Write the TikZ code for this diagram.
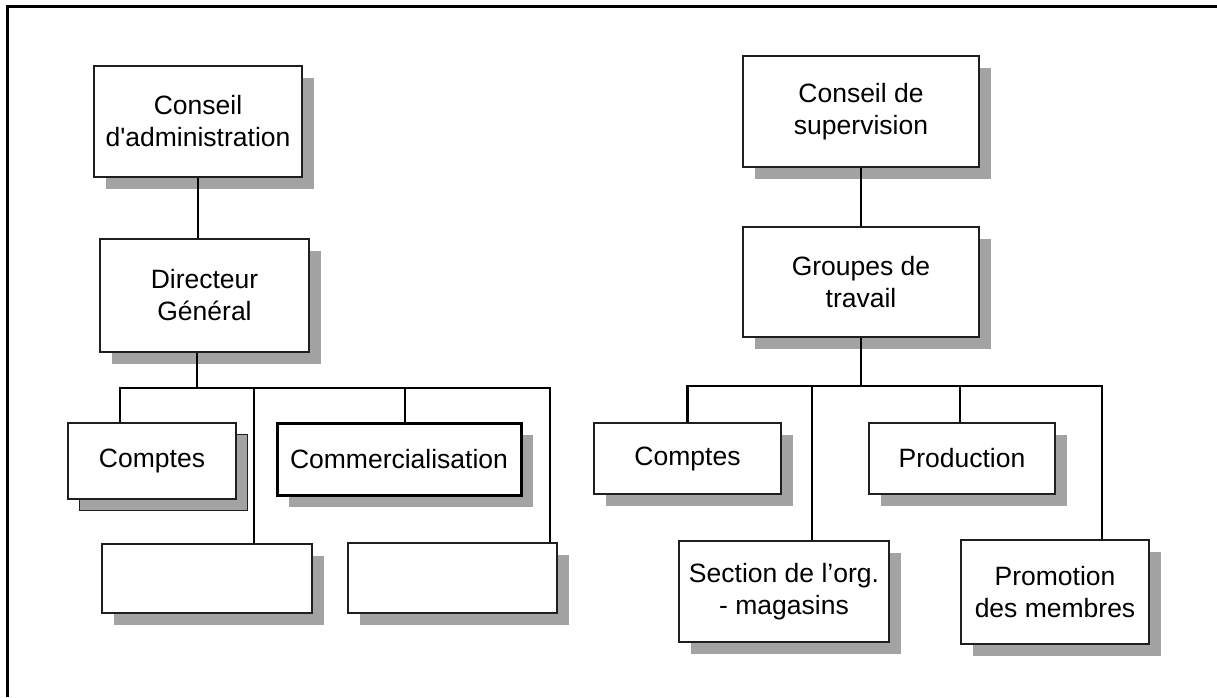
\documentclass[tikz,border=0pt]{standalone}
\usepackage{fontspec}
\setmainfont{Liberation Sans}
\usetikzlibrary{shadows}
\definecolor{shadowgray}{gray}{0.64}
\definecolor{boxline}{gray}{0.12}
\tikzset{
  box/.style={draw=boxline, line width=1.3pt, fill=white, inner sep=0pt, align=center,
    font=\fontsize{26.5}{32}\selectfont,
    general shadow={fill=shadowgray, shadow xshift=11.5pt, shadow yshift=-11.5pt}},
  outlinedshadowbox/.style={draw=boxline, line width=1.3pt, fill=white, inner sep=0pt, align=center,
    font=\fontsize{26.5}{32}\selectfont,
    general shadow={fill=shadowgray, draw=boxline, line width=1.2pt, shadow xshift=11.5pt, shadow yshift=-11.5pt}},
  thickbox/.style={box, line width=3pt, draw=black},
  conn/.style={draw=black, line width=2.8pt, line join=miter},
  frameline/.style={draw=black, line width=3pt, line join=miter}
}
\begin{document}
\begin{tikzpicture}[x=1pt,y=-1pt]
\useasboundingbox (0,0) rectangle (1217,697);
% frame
\coordinate (fBL) at (7,697);
\coordinate (fTL) at (7,6.5);
\coordinate (fTR) at (1217,6.5);
\draw[frameline] (fBL) -- (fTL) -- (fTR);

% ---------- left tree ----------
\node[box, minimum width=208pt, minimum height=111pt] (ca) at (198,121.5) {Conseil\\d\textquotesingle administration};
\node[box, minimum width=209pt, minimum height=113pt] (dg) at (204.5,295.5) {Directeur\\Général};
\node[outlinedshadowbox, minimum width=168pt, minimum height=76pt] (cptL) at (152,461) {Comptes};
\node[thickbox, minimum width=244pt, minimum height=72pt] (com) at (399,459) {Commercialisation};
\node[box, minimum width=210pt, minimum height=69pt] (b1) at (207,578.5) {};
\node[box, minimum width=209pt, minimum height=70pt] (b2) at (452.5,578) {};

\draw[conn] (ca.south) -- (ca.south |- dg.north);
\coordinate (busL) at (197,388);
\draw[conn] (dg.south -| busL) -- (busL);
\coordinate (aL1) at ([xshift=-32pt]cptL.north);
\coordinate (aL2) at ([xshift=47pt]b1.north);
\coordinate (aL3) at ([xshift=6pt]com.north);
\coordinate (aL4) at ([xshift=97.5pt]b2.north);
\draw[conn] (aL1) -- (aL1 |- busL) -- (aL4 |- busL) -- (aL4);
\draw[conn] (aL2) -- (aL2 |- busL);
\draw[conn] (aL3) -- (aL3 |- busL);

% ---------- right tree ----------
\node[box, minimum width=236pt, minimum height=111pt] (cs) at (861,111.5) {Conseil de\\supervision};
\node[box, minimum width=236pt, minimum height=110pt] (gt) at (861,282) {Groupes de\\travail};
\node[box, minimum width=187pt, minimum height=71pt] (cptR) at (687.5,458.5) {Comptes};
\node[box, minimum width=186pt, minimum height=71pt] (prod) at (962,458.5) {Production};
\node[box, minimum width=210pt, minimum height=101pt] (sec) at (784,591.5) {Section de l’org.\\- magasins};
\node[box, minimum width=188pt, minimum height=104pt] (promo) at (1055,592) {Promotion\\des membres};

\draw[conn] (cs.south) -- (gt.north);
\coordinate (busR) at (862,386);
\draw[conn] (gt.south) -- (gt.south |- busR);
\coordinate (aR1) at (cptR.north);
\coordinate (aR2) at ([xshift=28pt]sec.north);
\coordinate (aR3) at ([xshift=-2pt]prod.north);
\coordinate (aR4) at ([xshift=47pt]promo.north);
\draw[conn] (aR1) -- (aR1 |- busR) -- (aR4 |- busR) -- (aR4);
\draw[conn] (aR2) -- (aR2 |- busR);
\draw[conn] (aR3) -- (aR3 |- busR);
\end{tikzpicture}
\end{document}
